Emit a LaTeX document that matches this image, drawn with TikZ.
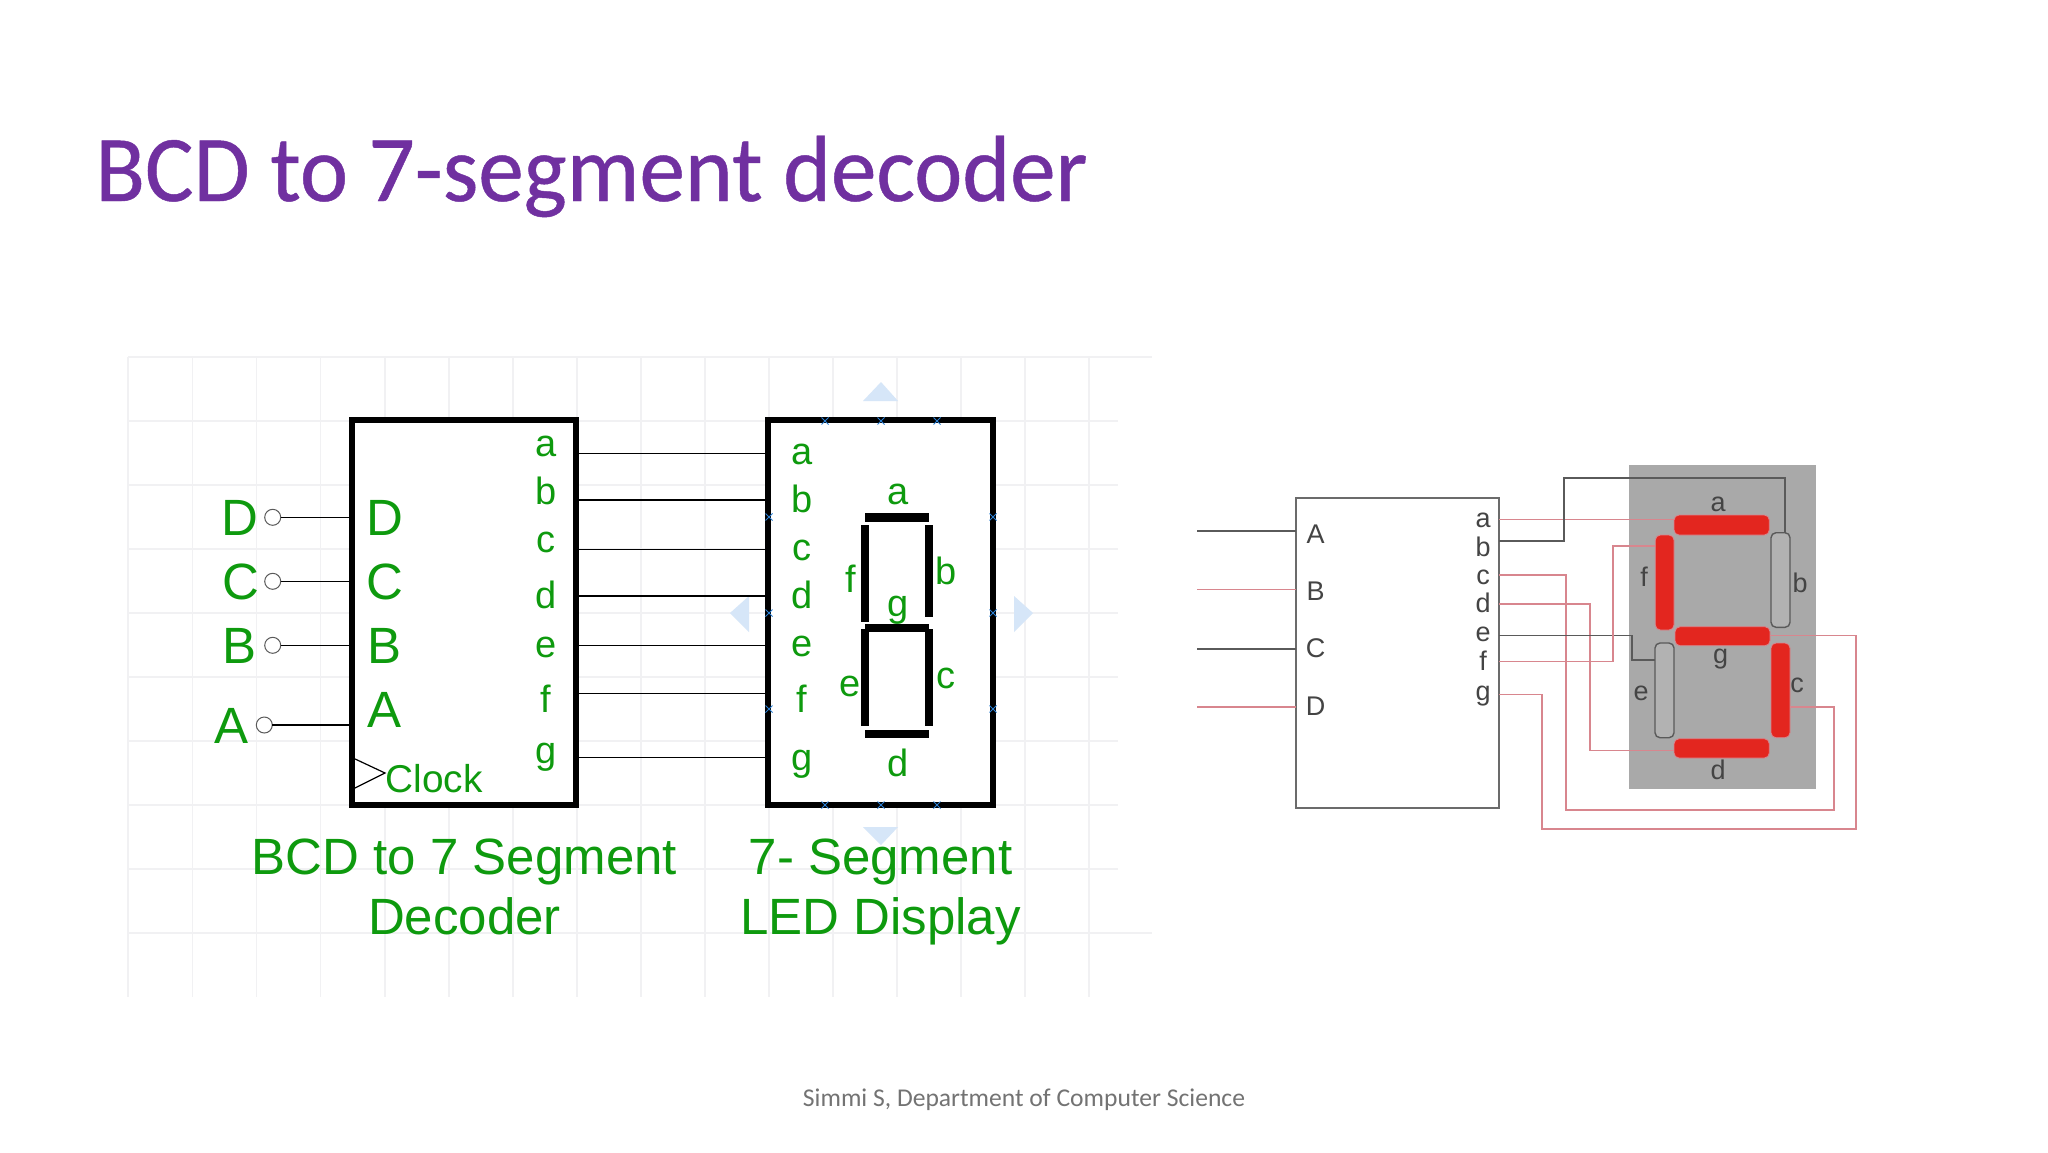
\documentclass[tikz,border=0pt]{standalone}
\usepackage{fontspec}
\setmainfont{Liberation Sans}
\newfontfamily\calib{Carlito}
\newfontfamily\calibt[FakeBold=0.5]{Carlito}
\usetikzlibrary{shapes.misc}
\definecolor{grn}{HTML}{0E9A0E}
\definecolor{purp}{HTML}{7030A0}
\definecolor{gridc}{HTML}{F1F1F3}
\definecolor{triblue}{HTML}{D6E6F8}
\definecolor{mkblue}{HTML}{2A7FD4}
\definecolor{pinkw}{HTML}{D8868E}
\definecolor{darkw}{HTML}{5A5A5A}
\definecolor{panelc}{HTML}{A9A9A9}
\definecolor{segred}{HTML}{E3261F}
\definecolor{txtd}{HTML}{444444}
\newcommand\fpx[1]{\fontsize{#1pt}{#1pt}\selectfont}
% name, style, x1, y1, x2, y2
\newcommand\rnode[6]{\node[#2,minimum width={(#5-#3)*0.5pt},minimum height={(#6-#4)*0.5pt}] (#1) at ({(#3+#5)/2},{(#4+#6)/2}) {};}
\tikzset{
  gridl/.style={draw=gridc,line width=0.6pt},
  tri/.style={fill=triblue},
  bigbox/.style={draw=black,fill=white,line width=3pt,inner sep=0pt,outer sep=0pt},
  blackseg/.style={fill=black,inner sep=0pt,outer sep=0pt},
  wire/.style={draw=black,line width=0.6pt},
  pincircle/.style={circle,draw=darkw,fill=white,line width=0.5pt,minimum size=8pt,inner sep=0pt,outer sep=0pt},
  bigl/.style={text=grn,font=\fpx{25.5},inner sep=0pt,anchor=base},
  midl/.style={text=grn,font=\fpx{19},inner sep=0pt,anchor=base},
  capl/.style={text=grn,font=\fpx{25.5},inner sep=0pt,anchor=base},
  mk/.style={cross out,draw=mkblue,line width=0.5pt,minimum size=3pt,inner sep=0pt},
  rbox/.style={draw=darkw!90,line width=1pt,fill=white,inner sep=0pt,outer sep=0pt},
  pinkwire/.style={draw=pinkw,line width=0.8pt},
  darkwire/.style={draw=darkw,line width=0.8pt},
  smalll/.style={text=txtd,font=\fpx{13.5},inner sep=0pt,anchor=base},
  redseg/.style={fill=segred,draw=pinkw,line width=0.4pt,rounded corners=2.5pt,inner sep=0pt,outer sep=0pt},
  offseg/.style={fill=black!30,draw=darkw,line width=0.7pt,rounded corners=2.5pt,inner sep=0pt,outer sep=0pt},
  panel/.style={fill=panelc,inner sep=0pt,outer sep=0pt},
}
\begin{document}
\begin{tikzpicture}[x=0.5pt,y=-0.5pt]
\useasboundingbox (0,0) rectangle (2048,1152);
\fill[white] (0,0) rectangle (2048,1152);

% title and footer
\node[text=purp,font={\calibt\fpx{47}},xscale=0.97,inner sep=0pt,anchor=base west] (title) at (95,201) {BCD to 7-segment decoder};
\node[text=black!55,font={\calib\fpx{12.8}},inner sep=0pt,anchor=base] (foot) at (1024,1106) {Simmi S, Department of Computer Science};

% grid
\foreach \x in {128,192.5,256.5,320.5,385,449,513,577,641,705,769,833,897,961,1025,1089}
  \draw[gridl] (\x,357) -- (\x,997);
\foreach \y in {421,485,549,613,677,741,805,869}
  \draw[gridl] (128,\y) -- (1118,\y);
\foreach \y in {357,933}
  \draw[gridl] (128,\y) -- (1152,\y);

% resize handles
\fill[tri] (881,382) -- (898,401) -- (863,401) -- cycle;
\fill[tri] (730,613) -- (749,596) -- (749,632) -- cycle;
\fill[tri] (1033,613) -- (1014,596) -- (1014,632) -- cycle;
\fill[tri] (863,827) -- (898,827) -- (881,845) -- cycle;

% decoder and display boxes
\rnode{dec}{bigbox}{352}{420}{576}{805}
\rnode{dis}{bigbox}{768}{420}{993}{805}

\foreach \n/\x/\y in {1/825/421,2/881/421,3/937/421,4/825/805,5/881/805,6/937/805,7/769/517,8/769/613,9/769/709,10/993/517,11/993/613,12/993/709}
  \node[mk] (mark\n) at (\x,\y) {};

% decoder to display wires
\foreach \p/\y in {a/453.3,b/500,c/549.3,d/596,e/645.3,f/693.7,g/757.7}{
  \coordinate (dec-\p) at (579,\y);
  \coordinate (dis-\p) at (765,\y);
  \draw[wire] (dec-\p) -- (dis-\p);
}

% inputs
\node[pincircle] (cD) at (272.7,517.3) {};
\node[pincircle] (cC) at (272.7,581.3) {};
\node[pincircle] (cB) at (272.7,645.3) {};
\node[pincircle] (cA) at (264.3,725) {};
\foreach \p in {A,B,C,D}
  \draw[wire] (c\p.east) -- (c\p -| dec.west);

\node[bigl] (oD) at (240,535.5) {D};
\node[bigl] (oC) at (240.5,599.5) {C};
\node[bigl] (oB) at (240,663.5) {B};
\node[bigl] (oA) at (232,743.5) {A};
\node[bigl] (iD) at (385,535.5) {D};
\node[bigl] (iC) at (385,599.5) {C};
\node[bigl] (iB) at (385,663.5) {B};
\node[bigl] (iA) at (385,727.5) {A};

\foreach \p/\y in {a/456.5,b/504,c/552,d/608.5,e/657,f/712,g/763}
  \node[midl] (dl\p) at (546,\y) {\p};
\foreach \p/\y in {a/464,b/512,c/560,d/608,e/656,f/712,g/770}
  \node[midl] (sl\p) at (802,\y) {\p};

% clock
\coordinate (clkt) at (353,758);
\coordinate (clkp) at (385,773);
\coordinate (clkb) at (353,789);
\draw[wire] (clkt) -- (clkp) -- (clkb);
\node[midl,font=\fpx{19.4},anchor=base west] (clk) at (385,792) {Clock};

% black seven-segment
\rnode{bsa}{blackseg}{865}{513.3}{929.3}{521.7}
\rnode{bsb}{blackseg}{925.3}{525}{933}{617.3}
\rnode{bsc}{blackseg}{925.3}{629.3}{933}{726}
\rnode{bsd}{blackseg}{865}{730}{929.3}{738.3}
\rnode{bse}{blackseg}{861.3}{629.3}{869}{726}
\rnode{bsf}{blackseg}{861.3}{525}{869}{621.7}
\rnode{bsg}{blackseg}{865}{624}{929.3}{631.7}
\node[midl] (la) at (898,504) {a};
\node[midl] (lb) at (946,584) {b};
\node[midl] (lf) at (851,592) {f};
\node[midl] (lg) at (898,616) {g};
\node[midl] (le) at (850,696) {e};
\node[midl] (lc) at (945.5,688.5) {c};
\node[midl] (ld) at (898,776) {d};

% captions
\node[capl] (cap1) at (464.5,874) {BCD to 7 Segment};
\node[capl] (cap2) at (464.5,934) {Decoder};
\node[capl] (cap3) at (880.5,874) {7- Segment};
\node[capl] (cap4) at (880.5,934) {LED Display};

% right-hand diagram
\rnode{rdec}{rbox}{1296}{497.5}{1498.7}{808.3}
\rnode{pan}{panel}{1629.3}{465.3}{1815.7}{789.3}

\coordinate (inA) at (1197,531);
\coordinate (inB) at (1197,589.3);
\coordinate (inC) at (1197,648.7);
\coordinate (inD) at (1197,706.7);
\draw[darkwire] (inA) -- (inA -| rdec.west);
\draw[pinkwire] (inB) -- (inB -| rdec.west);
\draw[darkwire] (inC) -- (inC -| rdec.west);
\draw[pinkwire] (inD) -- (inD -| rdec.west);

\rnode{ra}{redseg}{1674}{515}{1769.3}{535}
\rnode{rf}{redseg}{1655.3}{535}{1674}{630}
\rnode{rg}{redseg}{1675}{626.7}{1770}{645.7}
\rnode{rb}{offseg}{1771}{532.7}{1790}{627.3}
\rnode{re}{offseg}{1655}{643}{1674}{737.7}
\rnode{rc}{redseg}{1771}{643}{1790}{737.7}
\rnode{rd}{redseg}{1674}{738.7}{1769.3}{758}

\foreach \p/\y in {a/519.3,b/540.7,c/575,d/604,e/635.3,f/661.3,g/694.3}
  \coordinate (out\p) at (1499,\y);
\coordinate (btop) at (1785,478);
\draw[pinkwire] (outa) -- (outa -| ra.west);
\draw[darkwire] (outb) -| (1564,478) -- (btop) -- (btop |- rb.north);
\draw[pinkwire] (outc) -| (1565.7,809.7) -| (1834,706.7) -- (rc.east |- 1834,706.7);
\draw[pinkwire] (outd) -| (1590,750.3) -- (rd.west |- 1590,750.3);
\draw[darkwire] (oute) -| (1631.7,660) -- (re.west |- 1631.7,660);
\draw[pinkwire] (outf) -| (1613,545.7) -- (rf.west |- 1613,545.7);
\draw[pinkwire] (outg) -| (1541.7,829) -| (1855.7,635.3) -- (rg.east |- 1855.7,635.3);

\foreach \p/\y in {A/543,B/600.7,C/657,D/715}
  \node[smalll] (rl\p) at (1315.7,\y) {\p};
\foreach \p/\y in {a/527,b/556,c/584,d/612,e/641.7,f/670,g/700}
  \node[smalll] (ro\p) at (1483,\y) {\p};

\node[smalll] (ta) at (1718,511) {a};
\node[smalll] (tb) at (1800,592.7) {b};
\node[smalll] (tc) at (1797,692) {c};
\node[smalll] (td) at (1718,779) {d};
\node[smalll] (te) at (1641,700.7) {e};
\node[smalll] (tf) at (1644,586) {f};
\node[smalll] (tg) at (1720.7,663) {g};
\end{tikzpicture}
\end{document}
